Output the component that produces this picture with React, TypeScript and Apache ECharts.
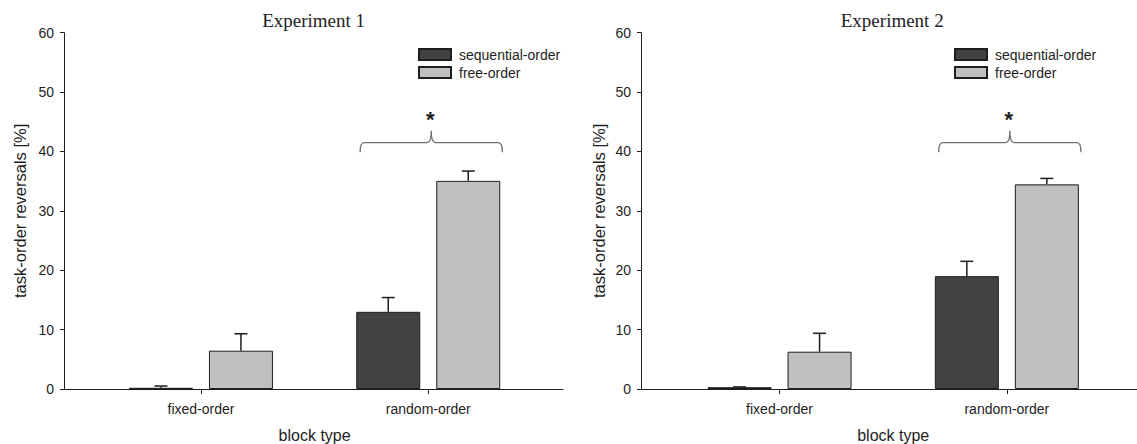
import React, { useEffect, useRef } from "react";
import * as echarts from "echarts";

const categories = ["fixed-order", "random-order"];
const seriesNames = ["sequential-order", "free-order"];

// Experiment 1
const exp1Seq = [0.2, 13.0];
const exp1SeqErr = [0.3, 2.4];
const exp1Free = [6.45, 35.05];
const exp1FreeErr = [2.85, 1.65];

// Experiment 2
const exp2Seq = [0.3, 19.0];
const exp2SeqErr = [0.05, 2.5];
const exp2Free = [6.28, 34.46];
const exp2FreeErr = [3.1, 1.0];

// y axis
const yMin = 0;
const yMax = 60;
const yInterval = 10;

// significance bracket: [category, endY, lineY, peakY, starY]
const bracket = [1, 39.85, 41.5, 43.5, 45.3];

const titles = ["Experiment 1", "Experiment 2"];

const SANS = "Liberation Sans, Arial, sans-serif";
const SERIF = "Liberation Serif, Times New Roman, serif";
const INK = "#1e1e1e";

export default function App() {
  const ref = useRef<HTMLDivElement>(null);

  useEffect(() => {
    if (!ref.current) return;
    const chart = echarts.init(ref.current, null, { renderer: "svg" });

    const gridTop = 32.7;
    const gridBottom = 55;
    const axisX = [64, 641];
    const lineEnd = [563, 1137];
    const dataGrids = [
      { left: 87.3, width: 454.6 },
      { left: 665.9, width: 454.6 },
    ];
    const barW = 64;
    const barOffset = 40;

    const grid: any[] = [];
    const xAxis: any[] = [];
    const yAxis: any[] = [];
    const series: any[] = [];
    const graphic: any[] = [];
    const legend: any[] = [];

    const datasets = [
      { seq: exp1Seq, seqErr: exp1SeqErr, free: exp1Free, freeErr: exp1FreeErr, nameGap: 36 },
      { seq: exp2Seq, seqErr: exp2SeqErr, free: exp2Free, freeErr: exp2FreeErr, nameGap: 34 },
    ];

    const errRender = (offset: number) => (params: any, api: any) => {
      const base = api.coord([api.value(0), api.value(1)]);
      const top = api.coord([api.value(0), api.value(2)]);
      const xc = base[0] + offset;
      const st = { stroke: INK, lineWidth: 1.5 };
      return {
        type: "group",
        children: [
          { type: "line", shape: { x1: xc, y1: base[1], x2: xc, y2: top[1] }, style: st },
          { type: "line", shape: { x1: xc - 6.5, y1: top[1], x2: xc + 6.5, y2: top[1] }, style: st },
        ],
      };
    };

    const bracketRender = (params: any, api: any) => {
      const c = api.value(0);
      const pEnd = api.coord([c, api.value(1)]);
      const pLine = api.coord([c, api.value(2)]);
      const pPeak = api.coord([c, api.value(3)]);
      const pStar = api.coord([c, api.value(4)]);
      const band = api.size([1, 0])[0];
      const xc = pEnd[0] + 3;
      const half = band * 0.313;
      const x0 = xc - half;
      const x1 = xc + half;
      const yE = pEnd[1];
      const yH = pLine[1];
      const yP = pPeak[1];
      const r = 4;
      const d =
        `M${x0},${yE} Q${x0},${yH} ${x0 + r},${yH} L${xc - r},${yH} Q${xc},${yH} ${xc},${yP} ` +
        `Q${xc},${yH} ${xc + r},${yH} L${x1 - r},${yH} Q${x1},${yH} ${x1},${yE}`;
      return {
        type: "group",
        children: [
          {
            type: "path",
            shape: { pathData: d },
            style: { stroke: "#6e6e6e", lineWidth: 1.3, fill: null },
          },
          {
            type: "text",
            x: xc - 1,
            y: pStar[1],
            style: {
              text: "*",
              fill: INK,
              font: `bold 22px ${SANS}`,
              textAlign: "center",
              textVerticalAlign: "middle",
            },
          },
        ],
      };
    };

    datasets.forEach((ds, k) => {
      const dg = 2 * k;
      const fg = 2 * k + 1;
      grid.push({
        left: dataGrids[k].left,
        width: dataGrids[k].width,
        top: gridTop,
        bottom: gridBottom,
        containLabel: false,
        outerBoundsMode: "none",
      });
      grid.push({
        left: axisX[k],
        width: lineEnd[k] - axisX[k],
        top: gridTop,
        bottom: gridBottom,
        containLabel: false,
        outerBoundsMode: "none",
      });

      // data axes
      xAxis.push({
        gridIndex: dg,
        type: "category",
        data: categories,
        name: "block type",
        nameLocation: "middle",
        nameGap: 38,
        nameTextStyle: { fontSize: 16, color: INK, fontFamily: SANS },
        axisLine: { show: false },
        axisTick: { show: true, alignWithLabel: true, length: 5, lineStyle: { color: INK } },
        axisLabel: { fontSize: 14, color: INK, fontFamily: SANS, margin: 13 },
        splitLine: { show: false },
      });
      yAxis.push({
        gridIndex: dg,
        type: "value",
        min: yMin,
        max: yMax,
        interval: yInterval,
        offset: dataGrids[k].left - axisX[k],
        name: "task-order reversals [%]",
        nameLocation: "middle",
        nameGap: ds.nameGap,
        nameTextStyle: { fontSize: 16.5, color: INK, fontFamily: SANS },
        axisLine: { show: true, lineStyle: { color: INK, width: 1 } },
        axisTick: { show: true, length: 4, lineStyle: { color: INK } },
        axisLabel: { fontSize: 14, color: INK, fontFamily: SANS, margin: 10 },
        splitLine: { show: false },
      });

      // frame x axis line
      xAxis.push({
        gridIndex: fg,
        type: "value",
        min: 0,
        max: 1,
        axisLine: { show: true, onZero: false, lineStyle: { color: INK, width: 1 } },
        axisTick: { show: false },
        axisLabel: { show: false },
        splitLine: { show: false },
      });
      yAxis.push({
        gridIndex: fg,
        type: "value",
        min: yMin,
        max: yMax,
        show: false,
      });

      series.push({
        type: "bar",
        name: seriesNames[0],
        xAxisIndex: dg,
        yAxisIndex: dg,
        data: ds.seq,
        barWidth: barW,
        barGap: "25%",
        itemStyle: { color: "#424242", borderColor: INK, borderWidth: 1 },
        z: 2,
      });
      series.push({
        type: "bar",
        name: seriesNames[1],
        xAxisIndex: dg,
        yAxisIndex: dg,
        data: ds.free,
        barWidth: barW,
        barGap: "25%",
        itemStyle: { color: "#c0c0c0", borderColor: INK, borderWidth: 1 },
        z: 2,
      });
      series.push({
        type: "custom",
        xAxisIndex: dg,
        yAxisIndex: dg,
        data: ds.seq.map((v, i) => [i, v, v + ds.seqErr[i]]),
        encode: { x: 0, y: 1 },
        renderItem: errRender(-barOffset),
        z: 3,
      });
      series.push({
        type: "custom",
        xAxisIndex: dg,
        yAxisIndex: dg,
        data: ds.free.map((v, i) => [i, v, v + ds.freeErr[i]]),
        encode: { x: 0, y: 1 },
        renderItem: errRender(barOffset),
        z: 3,
      });
      series.push({
        type: "custom",
        xAxisIndex: dg,
        yAxisIndex: dg,
        data: [bracket],
        encode: { x: 0, y: 2 },
        renderItem: bracketRender,
        z: 3,
      });

      legend.push({
        data: seriesNames,
        orient: "vertical",
        left: k === 0 ? 413 : 949,
        top: 42.5,
        icon: "rect",
        itemWidth: 32,
        itemHeight: 11,
        itemGap: 4,
        selectedMode: false,
        textStyle: { fontSize: 14, color: INK, fontFamily: SANS, lineHeight: 14, padding: [0, 0, 0, 3] },
      });

      graphic.push({
        type: "text",
        x: dataGrids[k].left + dataGrids[k].width / 2 - 1,
        y: 20,
        style: {
          text: titles[k],
          fill: INK,
          font: `19px ${SERIF}`,
          textAlign: "center",
          textVerticalAlign: "middle",
        },
      });
    });

    chart.setOption({
      animation: false,
      backgroundColor: "#ffffff",
      grid,
      xAxis,
      yAxis,
      series,
      legend,
      graphic,
    });

    return () => chart.dispose();
  }, []);

  return (
    <div
      ref={ref}
      style={{ position: "fixed", left: 0, top: 0, width: 1137, height: 444 }}
    />
  );
}
